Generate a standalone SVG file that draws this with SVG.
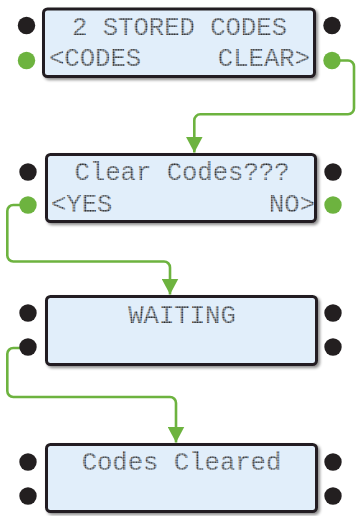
<svg xmlns="http://www.w3.org/2000/svg" width="358" height="516" viewBox="0 0 358 516">
  <defs>
    <filter id="shadow" x="-5%" y="-10%" width="115%" height="130%">
      <feDropShadow dx="2" dy="2" stdDeviation="1.5" flood-color="#000" flood-opacity="0.45"/>
    </filter>
    <pattern id="dots" patternUnits="userSpaceOnUse" width="2.55" height="2.55">
      <rect width="2.55" height="2.55" fill="#50565c" fill-opacity="0.35"/>
      <circle cx="1.27" cy="1.27" r="0.95" fill="#1e1e1e"/>
    </pattern>
    <marker id="arrow" viewBox="0 0 16 17" refX="16" refY="8.5" markerWidth="16" markerHeight="17" markerUnits="userSpaceOnUse" orient="auto">
      <path d="M0,0 L16,8.5 L0,17 Z" fill="#6db33f"/>
    </marker>
  </defs>
  <style>
    .lcd { fill: #e1eefa; stroke: #231f20; stroke-width: 3; filter: url(#shadow); }
    .blk { fill: #231f20; }
    .grn { fill: #6db33f; }
    .t { font-family: "Liberation Mono", "DejaVu Sans Mono", monospace; font-size: 25.6px; font-weight: normal; fill: url(#dots); }
    .c { text-anchor: middle; }
    .e { text-anchor: end; }
    .conn { fill: none; stroke: #6db33f; stroke-width: 2.6; stroke-linejoin: round; marker-end: url(#arrow); }
  </style>

  <g id="connectors">
    <path class="conn" d="M340 60.5 H348 A6 6 0 0 1 354 66.5 V108 A6 6 0 0 1 348 114.3 H200.3 A6 6 0 0 0 194.3 120.3 V152.5"/>
    <path class="conn" d="M20 205 H13.3 A6 6 0 0 0 7.3 211 V255.5 A6 6 0 0 0 13.3 261.5 H164 A6 6 0 0 1 170 267.5 V294.5"/>
    <path class="conn" d="M21 348 H13.3 A6 6 0 0 0 7.3 354 V391 A6 6 0 0 0 13.3 397 H170 A6 6 0 0 1 176 403 V442.5"/>
  </g>

  <g id="screen1">
    <rect class="lcd" x="43.5" y="9" width="271" height="67.5" rx="4"/>
    <circle class="blk" cx="26.5" cy="25.5" r="8.7"/>
    <circle class="grn" cx="26.5" cy="60.5" r="8.7"/>
    <circle class="blk" cx="332" cy="25.5" r="8.7"/>
    <circle class="grn" cx="332" cy="60.5" r="8.7"/>
    <text class="t c" x="179.5" y="35">2 STORED CODES</text>
    <text class="t" x="49" y="66">&lt;CODES</text>
    <text class="t e" x="310" y="66">CLEAR&gt;</text>
  </g>

  <g id="screen2">
    <rect class="lcd" x="46.5" y="154.5" width="269" height="67" rx="4"/>
    <circle class="blk" cx="28" cy="172" r="8.7"/>
    <circle class="grn" cx="28" cy="205" r="8.7"/>
    <circle class="blk" cx="333" cy="172" r="8.7"/>
    <circle class="grn" cx="333" cy="205" r="8.7"/>
    <text class="t c" x="182" y="180">Clear Codes???</text>
    <text class="t" x="51" y="212">&lt;YES</text>
    <text class="t e" x="315" y="212">NO&gt;</text>
  </g>

  <g id="screen3">
    <rect class="lcd" x="46.5" y="296.5" width="270" height="68" rx="4"/>
    <circle class="blk" cx="28" cy="313" r="8.7"/>
    <circle class="blk" cx="28" cy="347" r="8.7"/>
    <circle class="blk" cx="333" cy="313" r="8.7"/>
    <circle class="blk" cx="333" cy="347" r="8.7"/>
    <text class="t c" x="182" y="322.7">WAITING</text>
  </g>

  <g id="screen4">
    <rect class="lcd" x="46.5" y="444.5" width="270" height="67" rx="4"/>
    <circle class="blk" cx="28" cy="462" r="8.7"/>
    <circle class="blk" cx="28" cy="496" r="8.7"/>
    <circle class="blk" cx="333" cy="462" r="8.7"/>
    <circle class="blk" cx="333" cy="496" r="8.7"/>
    <text class="t c" x="181.5" y="470">Codes Cleared</text>
  </g>
</svg>
